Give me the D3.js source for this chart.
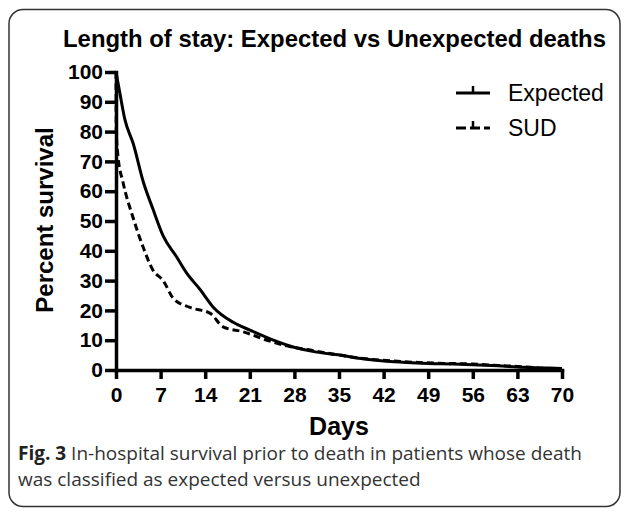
<!DOCTYPE html>
<html>
<head>
<meta charset="utf-8">
<script src="https://cdn.jsdelivr.net/npm/d3@7"></script>
<style>
	body { margin: 0; background: white; }
	svg { display: block; }
</style>
</head>
<body>
<svg id="chart" width="627" height="517"></svg>
<script>
var xTicks = [0, 7, 14, 21, 28, 35, 42, 49, 56, 63, 70];
var yTicks = [0, 10, 20, 30, 40, 50, 60, 70, 80, 90, 100];

var expDays = [0, 0.6, 1.4, 2.7, 4.3, 5.8, 7.4, 9.5, 11.1, 13.2, 15.3, 18.4, 21, 24.7, 27.8, 31.5, 35.2, 37.8, 42, 45, 49, 53, 56, 60, 63, 67, 70];
var expSurv = [100, 93, 84, 76, 63, 54, 45, 38, 32.5, 27, 21, 16, 13.4, 10, 7.7, 6, 5, 4, 3, 2.6, 2.2, 2, 1.8, 1.4, 1, 0.7, 0.5];
var sudDays = [0, 0.05, 0.3, 1.1, 2.7, 4.3, 5.8, 7.4, 9, 11.6, 14.8, 16.8, 20, 23.7, 27, 31, 35, 40, 45, 50, 56, 60, 63, 67, 70];
var sudSurv = [100, 80, 72, 63, 51, 41, 33.5, 30, 24, 21, 19, 14.5, 12.8, 10, 8, 6.5, 5, 3.6, 2.8, 2.3, 2, 1.5, 1.2, 0.6, 0.3];

var svg = d3.select("#chart");
var boldFont = "'Liberation Sans', Arial, sans-serif";

svg.append("rect")
	.attr("x", 9).attr("y", 9.5)
	.attr("width", 611).attr("height", 497)
	.attr("rx", 14)
	.attr("fill", "white")
	.attr("stroke", "#333").attr("stroke-width", 1.5);

var x = d3.scaleLinear().domain([0, 70]).range([116, 562]);
var y = d3.scaleLinear().domain([0, 100]).range([370, 72]);

svg.append("text")
	.attr("x", 63).attr("y", 47)
	.attr("textLength", 543).attr("lengthAdjust", "spacingAndGlyphs")
	.style("font", "bold 24px " + boldFont)
	.text("Length of stay: Expected vs Unexpected deaths");

var line = d3.line()
	.x(function(d) { return x(d[0]); })
	.y(function(d) { return y(d[1]); })
	.curve(d3.curveMonotoneX);

var expData = d3.zip(expDays, expSurv),
	sudData = d3.zip(sudDays, sudSurv);

svg.append("path")
	.attr("d", line(expData))
	.attr("fill", "none").attr("stroke", "black")
	.attr("stroke-width", 3);

svg.append("path")
	.attr("d", line(sudData))
	.attr("fill", "none").attr("stroke", "black")
	.attr("stroke-width", 3)
	.attr("stroke-dasharray", "7,4");

var yAxis = svg.append("g")
	.attr("transform", "translate(" + x(0) + ",0)")
	.call(d3.axisLeft(y).tickValues(yTicks).tickSize(11).tickSizeOuter(0).tickPadding(2));

var xAxis = svg.append("g")
	.attr("transform", "translate(0," + y(0) + ")")
	.call(d3.axisBottom(x).tickValues(xTicks).tickSize(9).tickSizeOuter(0).tickPadding(8));

[yAxis, xAxis].forEach(function(g) {
	g.select(".domain").attr("stroke-width", 3.5).attr("stroke-linecap", "square");
	g.selectAll(".tick line").attr("stroke-width", 3.5);
	g.selectAll(".tick text")
		.attr("fill", "black")
		.style("font", "bold 21px " + boldFont);
});

svg.append("text")
	.attr("transform", "translate(53,220) rotate(-90)")
	.attr("text-anchor", "middle")
	.style("font", "bold 24px " + boldFont)
	.text("Percent survival");

svg.append("text")
	.attr("x", x(35)).attr("y", 435)
	.attr("text-anchor", "middle")
	.style("font", "bold 25px " + boldFont)
	.text("Days");

// legend
var legend = [
	{name: "Expected", dash: null, y: 93},
	{name: "SUD", dash: "10,4", y: 128}
];
legend.forEach(function(l) {
	svg.append("line")
		.attr("x1", 456).attr("x2", 490)
		.attr("y1", l.y).attr("y2", l.y)
		.attr("stroke", "black").attr("stroke-width", 3)
		.attr("stroke-dasharray", l.dash);
	svg.append("line")
		.attr("x1", 473).attr("x2", 473)
		.attr("y1", l.y).attr("y2", l.y - 7)
		.attr("stroke", "black").attr("stroke-width", 2.5);
	svg.append("text")
		.attr("x", 508).attr("y", l.y + 8)
		.style("font", "23px " + boldFont)
		.text(l.name);
});

var caption = svg.append("g")
	.style("font", "19px 'Open Sans', sans-serif")
	.attr("fill", "#333");
var c1 = caption.append("text").attr("x", 18).attr("y", 460);
c1.append("tspan").style("font-weight", "bold").attr("fill", "#222").text("Fig. 3");
c1.append("tspan").text(" In-hospital survival prior to death in patients whose death");
caption.append("text").attr("x", 18).attr("y", 486)
	.text("was classified as expected versus unexpected");
</script>
</body>
</html>
